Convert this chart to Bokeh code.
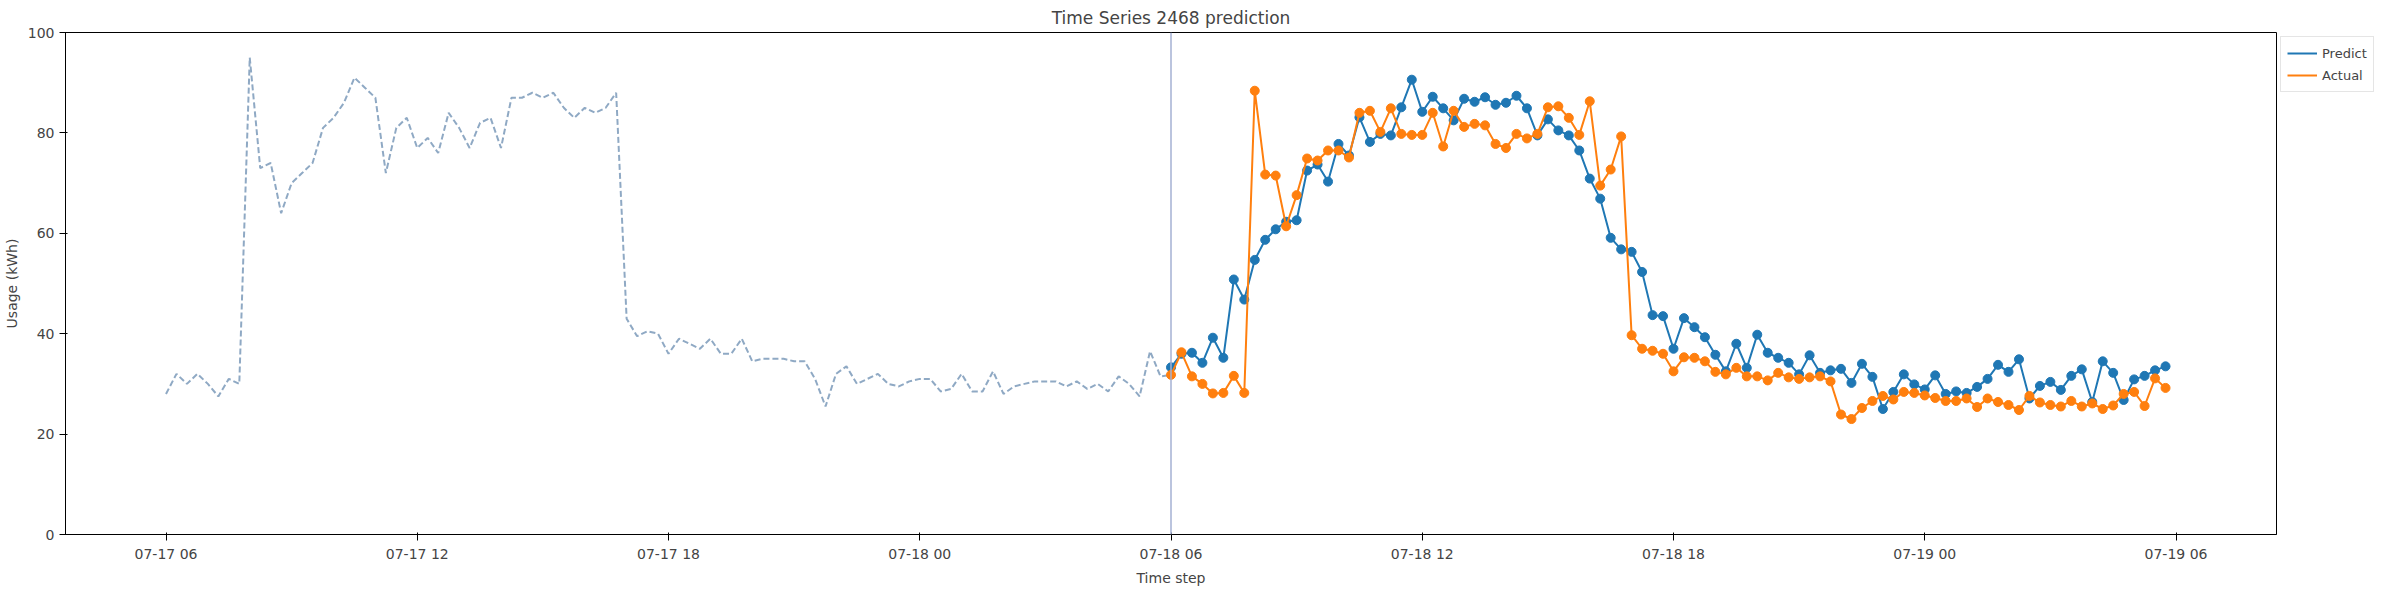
import pandas as pd
from bokeh.plotting import figure
from bokeh.models import Span, Legend, LegendItem, DatetimeTickFormatter, Range1d, DatetimeTicker
from bokeh.embed import file_html
from bokeh.resources import INLINE

# history, 15 min steps from 07-17 06:00
history = [28, 32, 30, 32, 30, 27.5, 31, 30, 95, 73, 74, 64, 70, 72, 74, 81, 83, 86, 91, 89,
           87, 72, 81, 83, 77, 79, 76, 84, 81, 77, 82, 83, 77, 87, 87, 88, 87, 88, 85, 83,
           85, 84, 85, 88, 43, 39.5, 40.5, 40, 36, 39, 38, 37, 39, 36, 36, 39, 34.5, 35, 35, 35,
           34.5, 34.5, 31, 25.5, 32, 33.5, 30, 31, 32, 30, 29.5, 30.5, 31, 31, 28.5, 29, 32, 28.5,
           28.5, 32.5, 28, 29.5, 30, 30.5, 30.5, 30.5, 29.5, 30.5, 29, 30, 28.5, 31.5, 30, 27.5,
           36.5, 31.5]

# forecast window, 15 min steps from 07-18 06:00
predict = [33.3, 36.0, 36.2, 34.2, 39.2, 35.2, 50.8, 46.8, 54.7, 58.7, 60.8, 62.3, 62.6, 72.5,
           73.7, 70.3, 77.8, 75.5, 83.1, 78.2, 79.8, 79.5, 85.1, 90.6, 84.2, 87.2, 84.9, 82.5,
           86.8, 86.2, 87.1, 85.6, 86.0, 87.4, 84.9, 79.5, 82.7, 80.5, 79.5, 76.5, 70.9, 66.9,
           59.1, 56.8, 56.3, 52.3, 43.7, 43.5, 37.0, 43.1, 41.3, 39.3, 35.8, 32.5, 38.0, 33.2,
           39.8, 36.2, 35.2, 34.2, 31.9, 35.7, 32.2, 32.7, 33.0, 30.2, 34.0, 31.4, 25.0, 28.4,
           31.9, 29.9, 28.9, 31.7, 28.0, 28.5, 28.2, 29.4, 31.0, 33.8, 32.4, 34.9, 27.1, 29.6,
           30.4, 28.8, 31.6, 32.9, 26.4, 34.5, 32.2, 26.8, 30.9, 31.6, 32.7, 33.5]

actual = [31.8, 36.3, 31.5, 30.0, 28.1, 28.2, 31.6, 28.2, 88.4, 71.7, 71.5, 61.4, 67.6, 74.9,
          74.5, 76.5, 76.5, 75.1, 84.0, 84.4, 80.2, 84.9, 79.8, 79.6, 79.6, 84.0, 77.3, 84.4,
          81.2, 81.8, 81.5, 77.8, 77.0, 79.8, 78.9, 79.8, 85.1, 85.3, 83.0, 79.6, 86.3, 69.5,
          72.7, 79.3, 39.7, 37.0, 36.6, 36.0, 32.5, 35.3, 35.2, 34.5, 32.4, 31.9, 33.2, 31.5,
          31.5, 30.7, 32.2, 31.3, 31.0, 31.3, 31.5, 30.5, 23.9, 23.0, 25.2, 26.6, 27.6, 26.9,
          28.4, 28.2, 27.7, 27.2, 26.6, 26.6, 27.1, 25.4, 27.1, 26.4, 25.8, 24.8, 27.6, 26.3,
          25.8, 25.5, 26.6, 25.5, 26.1, 25.0, 25.7, 28.0, 28.4, 25.6, 31.1, 29.2]

hist_t = pd.date_range("2023-07-17 06:00", periods=len(history), freq="15min")
pred_t = pd.date_range("2023-07-18 06:00", periods=len(predict), freq="15min")

x0 = pd.Timestamp("2023-07-17 03:36")
x1 = pd.Timestamp("2023-07-19 08:24")

p = figure(frame_width=2211, frame_height=502, x_axis_type="datetime", output_backend="svg",
           toolbar_location=None, title="Time Series 2468 prediction",
           x_range=Range1d(x0, x1), y_range=Range1d(0, 100),
           x_axis_label="Time step", y_axis_label="Usage (kWh)",
           min_border_left=62, min_border_top=4, min_border_right=4)

p.line(list(hist_t) + [pred_t[0]], history + [actual[0]], color="#8fa9c4",
       line_width=2, line_dash="6 3")

p.add_layout(Span(location=pred_t[0], dimension="height", line_color="#a4b1d3", line_width=1.5))

r1 = p.line(pred_t, predict, color="#1f77b4", line_width=2)
c1 = p.scatter(pred_t, predict, color="#1f77b4", size=9)
r2 = p.line(pred_t, actual, color="#ff7f0e", line_width=2)
c2 = p.scatter(pred_t, actual, color="#ff7f0e", size=9)

legend = Legend(items=[LegendItem(label="Predict", renderers=[r1]),
                       LegendItem(label="Actual", renderers=[r2])],
                location="top_left", label_text_font="DejaVu Sans", label_text_font_size="13px",
                border_line_color="#cccccc", padding=6, spacing=2, glyph_width=30, margin=4)
p.add_layout(legend, "right")

p.xaxis.ticker = DatetimeTicker(desired_num_ticks=9)
p.xaxis.formatter = DatetimeTickFormatter(hours="%m-%d %H", days="%m-%d %H")
p.xgrid.visible = False
p.ygrid.visible = False
p.title.align = "center"
p.title.text_font = "DejaVu Sans"
p.title.text_font_size = "17px"
p.title.text_font_style = "normal"
for ax in (p.xaxis, p.yaxis):
    ax.axis_label_text_font = "DejaVu Sans"
    ax.axis_label_text_font_style = "normal"
    ax.axis_label_text_font_size = "14px"
    ax.major_label_text_font = "DejaVu Sans"
    ax.major_label_text_font_size = "14px"
    ax.minor_tick_line_color = None
    ax.axis_line_color = "black"
p.outline_line_color = "black"

open("out.html", "w").write(file_html(p, INLINE))
